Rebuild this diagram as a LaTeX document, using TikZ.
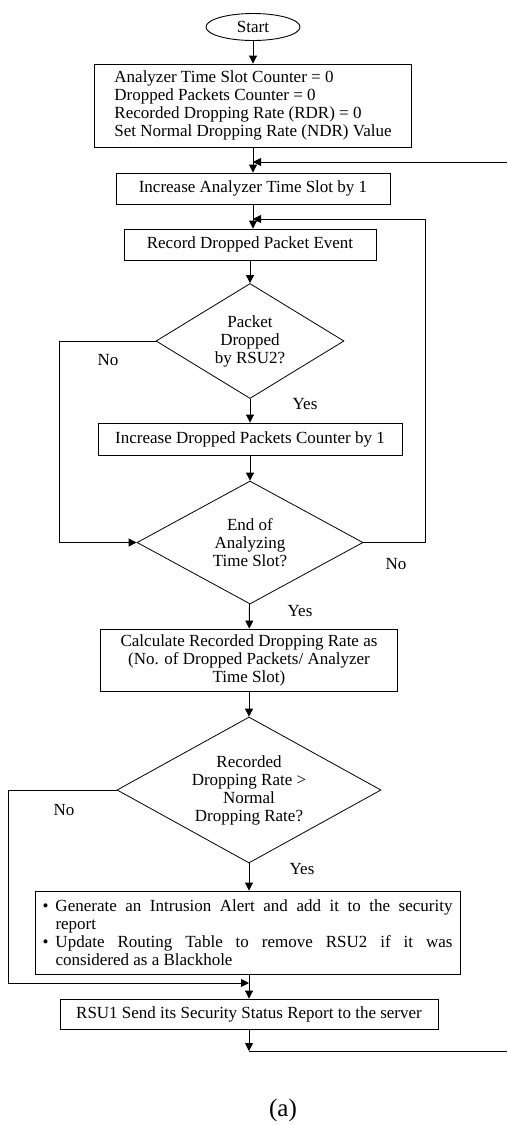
\documentclass[tikz,border=0pt]{standalone}
\usepackage{fontspec}
\setmainfont{Liberation Serif}
\usetikzlibrary{shapes.geometric,arrows.meta}

\begin{document}
\begin{tikzpicture}[x=1pt,y=-1pt,line width=0.9pt,
        txt/.style={font=\fontsize{17}{18}\selectfont},
        box/.style={txt,draw,rectangle,inner sep=0pt,align=center},
        decision/.style={txt,draw,diamond,aspect=1.7,inner sep=0pt,align=center,line width=0.8pt},
        flow/.style={-{Triangle[length=8pt,width=8pt]}}]
        \useasboundingbox (0,0) rectangle (507,1125);
        \node[txt,draw,ellipse,minimum width=94pt,minimum height=27pt,inner sep=0pt] (start) at (253,27) {Start};
        \node[box,align=left,minimum width=317pt,minimum height=83pt] (init) at (253,105.5)
            {Analyzer Time Slot Counter = 0\\Dropped Packets Counter = 0\\Recorded Dropping Rate (RDR) = 0\\Set Normal Dropping Rate (NDR) Value};
        \node[box,minimum width=274pt,minimum height=31pt] (incslot) at (253,188.5) {Increase Analyzer Time Slot by 1};
        \node[box,minimum width=252pt,minimum height=31pt] (record) at (250,244.5) {Record Dropped Packet Event};
        \node[decision,minimum width=188pt,minimum height=115pt] (dropped) at (250,341) {Packet\\Dropped\\by RSU2?};
        \node[box,minimum width=304pt,minimum height=32pt] (inccount) at (250,439) {Increase Dropped Packets Counter by 1};
        \node[decision,minimum width=226pt,minimum height=123pt] (endslot) at (250,542.5) {End of\\Analyzing\\Time Slot?};
        \node[box,minimum width=297pt,minimum height=62pt] (calc) at (249,660)
            {Calculate Recorded Dropping Rate as\\(No. of Dropped Packets/ Analyzer\\Time Slot)};
        \node[decision,minimum width=264pt,minimum height=146pt] (compare) at (249,790)
            {Recorded\\Dropping Rate >\\Normal\\Dropping Rate?};
        \node[box,align=justify,text width=410pt,minimum width=425pt,minimum height=83pt] (alert) at (247.5,932.5)
            {\hangindent=13pt\hangafter=1\noindent\makebox[13pt][l]{\textbullet}Generate an Intrusion Alert and add it to the security\linebreak report\par
             \hangindent=13pt\hangafter=1\noindent\makebox[13pt][l]{\textbullet}Update Routing Table to remove RSU2 if it was\linebreak considered as a Blackhole\par};
        \node[box,minimum width=378pt,minimum height=30pt] (send) at (249,1014) {RSU1 Send its Security Status Report to the server};
        \node[font=\fontsize{25}{28}\selectfont] (caption) at (283,1110) {(a)};
        \node[txt] (no1) at (108,360) {No};
        \node[txt] (yes1) at (305,404) {Yes};
        \node[txt] (no2) at (396,564) {No};
        \node[txt] (yes2) at (300,611) {Yes};
        \node[txt] (no3) at (64,810) {No};
        \node[txt] (yes3) at (302,869) {Yes};
        \coordinate (outer1) at (507,162);
        \coordinate (merge1) at (253,162);
        \coordinate (merge2) at (253,219);
        \coordinate (loop2) at (425,219);
        \coordinate (merge3) at (249,983);
        \coordinate (merge4) at (249,1051);
        \coordinate (outer4) at (507,1051);
        \draw[flow] (start) -- (init);
        \draw[flow] (init) -- (incslot);
        \draw[flow] (outer1) -- (merge1);
        \draw[flow] (incslot) -- (incslot.south |- record.north);
        \draw[flow] (loop2) -- (merge2);
        \draw[flow] (record) -- (dropped);
        \draw[flow] (dropped) -- (inccount);
        \draw[flow] (inccount) -- (endslot);
        \draw[flow] (dropped.west) -- ++(-96,0) |- (endslot.west);
        \draw (endslot.east) -| (loop2);
        \draw[flow] (endslot) -- (calc);
        \draw[flow] (calc) -- (compare);
        \draw[flow] (compare.south) -- (compare.south |- alert.north);
        \draw[flow] (compare.west) -- ++(-108,0) |- (merge3);
        \draw[flow] (merge3 |- alert.south) -- (send);
        \draw[flow] (send) -- (merge4);
        \draw (merge4) -- (outer4);
\end{tikzpicture}
\end{document}
